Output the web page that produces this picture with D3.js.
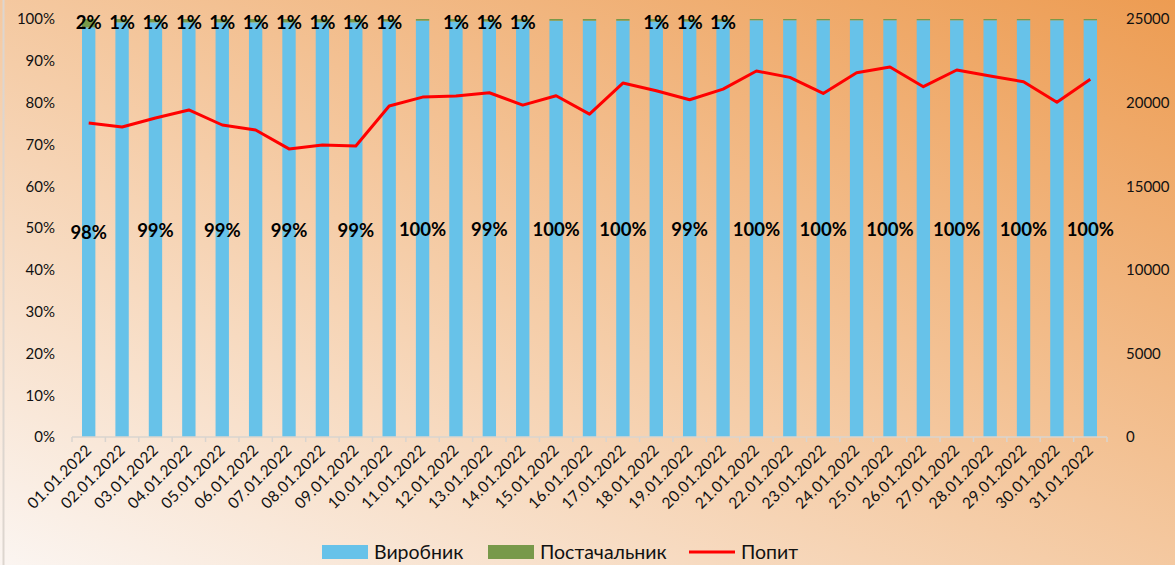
<!DOCTYPE html>
<html>
<head>
<meta charset="utf-8" />
<script src="https://cdn.jsdelivr.net/npm/d3@7"></script>
<style>
  body { margin: 0; }
  text { font-family: Lato, "Open Sans", sans-serif; }
</style>
</head>
<body>
<script>
// дані за січень 2022
var dates = ["01.01.2022","02.01.2022","03.01.2022","04.01.2022","05.01.2022","06.01.2022","07.01.2022",
             "08.01.2022","09.01.2022","10.01.2022","11.01.2022","12.01.2022","13.01.2022","14.01.2022",
             "15.01.2022","16.01.2022","17.01.2022","18.01.2022","19.01.2022","20.01.2022","21.01.2022",
             "22.01.2022","23.01.2022","24.01.2022","25.01.2022","26.01.2022","27.01.2022","28.01.2022",
             "29.01.2022","30.01.2022","31.01.2022"];
// частка постачальника, %
var supplier = [2.0, 0.8, 0.8, 0.8, 0.8, 0.8, 0.8, 0.8, 0.8, 0.6, 0.4, 0.6, 0.6, 0.6, 0.4, 0.4,
                0.4, 0.6, 0.6, 0.6, 0.3, 0.3, 0.3, 0.3, 0.3, 0.3, 0.3, 0.3, 0.3, 0.3, 0.3];
// частка виробника, %
var producer = supplier.map(function (d) { return 100 - d; });
// попит
var demand = [18780, 18540, 19080, 19560, 18660, 18360, 17230, 17460, 17400, 19800, 20330, 20390,
              20590, 19850, 20410, 19310, 21170, 20710, 20170, 20810, 21890, 21510, 20550, 21790,
              22130, 20950, 21950, 21590, 21250, 20020, 21390];
var leftTicks = [0, 10, 20, 30, 40, 50, 60, 70, 80, 90, 100];
var rightTicks = [0, 5000, 10000, 15000, 20000, 25000];

var W = 1175, H = 565;
var m = { left: 72, right: 68, top: 19, bottom: 128 };

var svg = d3.select("body").append("svg").attr("width", W).attr("height", H);

var grad = svg.append("defs").append("linearGradient")
  .attr("id", "bg").attr("x1", 0).attr("y1", 1).attr("x2", 1).attr("y2", 0);
grad.append("stop").attr("offset", "0%").attr("stop-color", "#fbf5f1");
grad.append("stop").attr("offset", "45%").attr("stop-color", "#f5cda8");
grad.append("stop").attr("offset", "100%").attr("stop-color", "#ed9c52");

svg.append("rect").attr("width", W).attr("height", H).attr("fill", "url(#bg)");
svg.append("line").attr("x1", 3.5).attr("x2", 3.5).attr("y1", 0).attr("y2", H)
  .attr("stroke", "#ddd6cf").attr("stroke-width", 2);

var x = d3.scaleBand().domain(dates).range([m.left, W - m.right]).paddingInner(0.6).paddingOuter(0.3);
var y = d3.scaleLinear().domain([0, 100]).range([H - m.bottom, m.top]);
var y2 = d3.scaleLinear().domain([0, 25000]).range([H - m.bottom, m.top]);

// ліва вісь
var gl = svg.append("g").attr("transform", "translate(" + (m.left - 14) + ",0)")
  .call(d3.axisLeft(y).tickValues(leftTicks).tickSize(0).tickFormat(function (d) { return d + "%"; }));
gl.select(".domain").remove();
gl.selectAll("text").attr("font-size", 15).attr("fill", "#111");

// права вісь
var gr = svg.append("g").attr("transform", "translate(" + (W - m.right + 16) + ",0)")
  .call(d3.axisRight(y2).tickValues(rightTicks).tickSize(0).tickFormat(d3.format("d")));
gr.select(".domain").remove();
gr.selectAll("text").attr("font-size", 15).attr("fill", "#111");

// стовпці
var bars = svg.append("g");
bars.selectAll(".p").data(dates).enter().append("rect")
  .attr("x", function (d) { return x(d); })
  .attr("width", x.bandwidth())
  .attr("y", function (d, i) { return y(producer[i]); })
  .attr("height", function (d, i) { return y(0) - y(producer[i]); })
  .attr("fill", "#67c2e9");
bars.selectAll(".s").data(dates).enter().append("rect")
  .attr("x", function (d) { return x(d); })
  .attr("width", x.bandwidth())
  .attr("y", function (d, i) { return y(100); })
  .attr("height", function (d, i) { return y(producer[i]) - y(100); })
  .attr("fill", "#78994a");

// вісь X
var step = x.step();
var gx = svg.append("g").attr("transform", "translate(0," + y(0) + ")");
gx.append("line").attr("x1", m.left).attr("x2", W - m.right).attr("stroke", "#d9d4cf").attr("stroke-width", 1.5);
gx.selectAll(".tk").data(d3.range(dates.length + 1)).enter().append("line")
  .attr("x1", function (i) { return m.left + i * step; })
  .attr("x2", function (i) { return m.left + i * step; })
  .attr("y1", 0).attr("y2", 5).attr("stroke", "#d9d4cf").attr("stroke-width", 1.5);
gx.selectAll(".lb").data(dates).enter().append("text")
  .attr("transform", function (d) { return "translate(" + (x(d) + x.bandwidth() / 2 + 4) + ",14) rotate(-45)"; })
  .attr("text-anchor", "end").attr("font-size", 15.5).attr("letter-spacing", 0.4).attr("fill", "#111")
  .text(function (d) { return d; });

// лінія попиту
var line = d3.line()
  .x(function (d, i) { return x(dates[i]) + x.bandwidth() / 2; })
  .y(function (d) { return y2(d); });
svg.append("path").datum(demand).attr("d", line)
  .attr("fill", "none").attr("stroke", "#ff0000").attr("stroke-width", 3).attr("stroke-linejoin", "round");

// підписи
var fmt = function (v) { return Math.round(v) + "%"; };
svg.append("g").selectAll("text").data(dates).enter()
  .filter(function (d, i) { return i % 2 === 0; })
  .append("text")
  .attr("x", function (d) { return x(d) + x.bandwidth() / 2; })
  .attr("y", function (d) { var i = dates.indexOf(d); return (y(0) + y(producer[i])) / 2 + 7; })
  .attr("text-anchor", "middle").attr("font-size", 18.5).attr("font-weight", "bold").attr("fill", "#000")
  .text(function (d) { return fmt(producer[dates.indexOf(d)]); });
svg.append("g").selectAll("text").data(dates).enter()
  .filter(function (d, i) { return Math.round(supplier[i]) >= 1; })
  .append("text")
  .attr("x", function (d) { return x(d) + x.bandwidth() / 2; })
  .attr("y", y(100) + 10)
  .attr("text-anchor", "middle").attr("font-size", 18.5).attr("font-weight", "bold").attr("fill", "#000")
  .text(function (d) { return fmt(supplier[dates.indexOf(d)]); });

// легенда
var legend = [
  { name: "Виробник", color: "#67c2e9", type: "rect", x: 322 },
  { name: "Постачальник", color: "#78994a", type: "rect", x: 488 },
  { name: "Попит", color: "#ff0000", type: "line", x: 689 }
];
var lg = svg.append("g");
legend.forEach(function (d) {
  if (d.type === "rect") {
    lg.append("rect").attr("x", d.x).attr("y", 545).attr("width", 46).attr("height", 14).attr("fill", d.color);
  } else {
    lg.append("line").attr("x1", d.x).attr("x2", d.x + 46).attr("y1", 552).attr("y2", 552)
      .attr("stroke", d.color).attr("stroke-width", 3);
  }
  lg.append("text").attr("x", d.x + 52).attr("y", 559).attr("font-size", 19.5).attr("fill", "#111").text(d.name);
});
</script>
</body>
</html>
